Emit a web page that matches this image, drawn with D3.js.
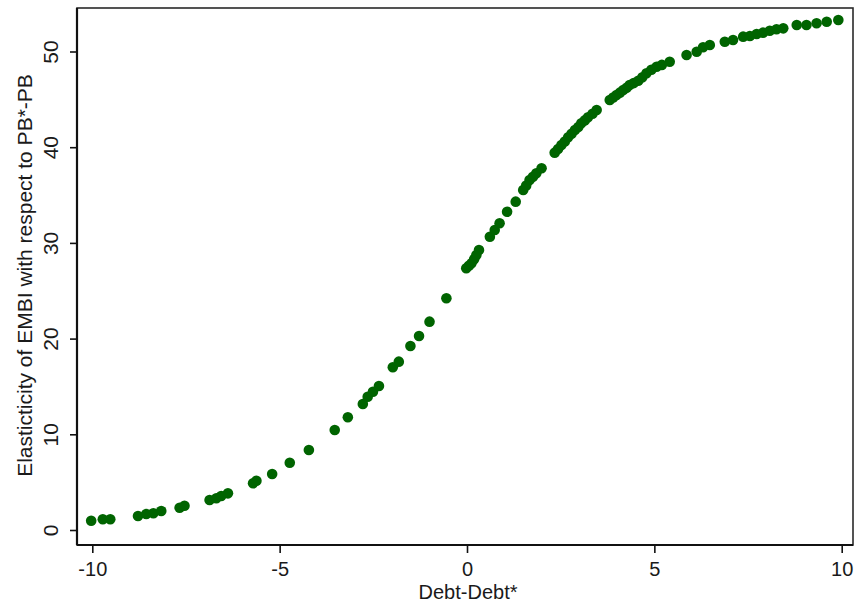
<!DOCTYPE html>
<html>
<head>
<meta charset="utf-8">
<script src="https://cdn.jsdelivr.net/npm/d3@7"></script>
<style>
  html, body { margin: 0; padding: 0; background: #fff; }
  svg { display: block; }
  text { font-family: "Liberation Sans", Arial, sans-serif; fill: #1a1a1a; }
</style>
</head>
<body>
<svg id="chart" width="855" height="604"></svg>
<script>
// ---- data ----
const debtGap = [
  -10.03, -9.72, -9.52, -8.78, -8.56, -8.37, -8.16, -7.67, -7.54,
  -6.87, -6.69, -6.56, -6.38, -5.71, -5.62, -5.20, -4.73, -4.22,
  -3.53, -3.18, -2.78, -2.65, -2.51, -2.35, -1.98, -1.82, -1.51,
  -1.28, -1.00, -0.55, -0.02, 0.05, 0.12, 0.19, 0.25, 0.32, 0.61,
  0.74, 0.87, 1.07, 1.30, 1.50, 1.58, 1.67, 1.76, 1.85, 1.99,
  2.34, 2.43, 2.52, 2.61, 2.70, 2.79, 2.88, 2.97, 3.05, 3.14,
  3.23, 3.35, 3.46, 3.81, 3.90, 3.99, 4.08, 4.17, 4.26, 4.34,
  4.45, 4.57, 4.68, 4.79, 4.92, 5.06, 5.20, 5.41, 5.86, 6.13,
  6.30, 6.48, 6.88, 7.10, 7.37, 7.55, 7.73, 7.90, 8.08, 8.26,
  8.44, 8.80, 9.06, 9.33, 9.60, 9.91
];
const elasticity = [
  0.97, 1.12, 1.12, 1.46, 1.67, 1.75, 1.99, 2.33, 2.54,
  3.13, 3.31, 3.55, 3.83, 4.88, 5.15, 5.85, 7.03, 8.36,
  10.45, 11.78, 13.17, 13.93, 14.45, 15.05, 17.00, 17.59, 19.23,
  20.27, 21.77, 24.21, 27.35, 27.60, 27.87, 28.30, 28.74, 29.26, 30.65,
  31.35, 32.05, 33.26, 34.31, 35.53, 36.00, 36.57, 36.90, 37.27, 37.80,
  39.43, 39.80, 40.23, 40.60, 41.03, 41.40, 41.80, 42.10, 42.50, 42.80,
  43.12, 43.50, 43.89, 44.93, 45.20, 45.45, 45.70, 45.98, 46.20, 46.50,
  46.70, 46.95, 47.30, 47.72, 48.10, 48.41, 48.60, 48.93, 49.63, 49.98,
  50.44, 50.68, 51.02, 51.20, 51.55, 51.62, 51.83, 51.97, 52.17, 52.32,
  52.42, 52.77, 52.77, 52.95, 53.11, 53.29
];
const xTicks = [-10, -5, 0, 5, 10];
const yTicks = [0, 10, 20, 30, 40, 50];
const xTitle = "Debt-Debt*";
const yTitle = "Elasticticity of EMBI with respect to PB*-PB";

// ---- layout ----
const svg = d3.select("#chart");
const frame = { left: 77, right: 853, top: 8, bottom: 545 };

const x = d3.scaleLinear().domain([-10, 10]).range([92.3, 841.7]);
const y = d3.scaleLinear().domain([0, 50]).range([530, 51.5]);

// plot region border
svg.append("rect")
  .attr("x", frame.left).attr("y", frame.top)
  .attr("width", frame.right - frame.left)
  .attr("height", frame.bottom - frame.top)
  .attr("fill", "#fff")
  .attr("stroke", "#2a2a2a")
  .attr("stroke-width", 1.6);

// x axis
const xAxis = svg.append("g")
  .attr("transform", `translate(0,${frame.bottom})`)
  .call(d3.axisBottom(x).tickValues(xTicks).tickSize(8).tickSizeOuter(0).tickPadding(9)
        .tickFormat(d3.format("d")));
xAxis.select(".domain")
  .attr("d", `M${frame.left},0H${frame.right}`)
  .attr("stroke", "#111").attr("stroke-width", 2.2);
xAxis.selectAll(".tick line").attr("stroke", "#111").attr("stroke-width", 1.6);
xAxis.selectAll(".tick text")
  .attr("font-size", 20).attr("fill", "#1a1a1a")
  .attr("font-family", "'Liberation Sans', Arial, sans-serif")
  .text(d => d < 0 ? "-" + Math.abs(d) : String(d));

// y axis
const yAxis = svg.append("g")
  .attr("transform", `translate(${frame.left},0)`)
  .call(d3.axisLeft(y).tickValues(yTicks).tickSize(7).tickSizeOuter(0).tickFormat(d3.format("d")));
yAxis.select(".domain")
  .attr("d", `M0,${frame.top}V${frame.bottom}`)
  .attr("stroke", "#111").attr("stroke-width", 2.2);
yAxis.selectAll(".tick line").attr("stroke", "#111").attr("stroke-width", 1.6);
yAxis.selectAll(".tick text")
  .attr("font-size", 21).attr("fill", "#1a1a1a")
  .attr("font-family", "'Liberation Sans', Arial, sans-serif")
  .attr("text-anchor", "middle")
  .attr("dy", null)
  .attr("x", null)
  .attr("transform", "translate(-19,0) rotate(-90)");

// titles
svg.append("text")
  .attr("x", 468).attr("y", 599)
  .attr("text-anchor", "middle")
  .attr("font-size", 20)
  .text(xTitle);

svg.append("text")
  .attr("transform", `translate(32,${(frame.top + frame.bottom) / 2 - 1}) rotate(-90)`)
  .attr("text-anchor", "middle")
  .attr("font-size", 21)
  .text(yTitle);

// points
const pts = debtGap.map((d, i) => ({ gap: d, el: elasticity[i] }));
svg.append("g")
  .selectAll("circle")
  .data(pts)
  .join("circle")
  .attr("cx", d => x(d.gap))
  .attr("cy", d => y(d.el))
  .attr("r", 5.3)
  .attr("fill", "#006400");
</script>
</body>
</html>
